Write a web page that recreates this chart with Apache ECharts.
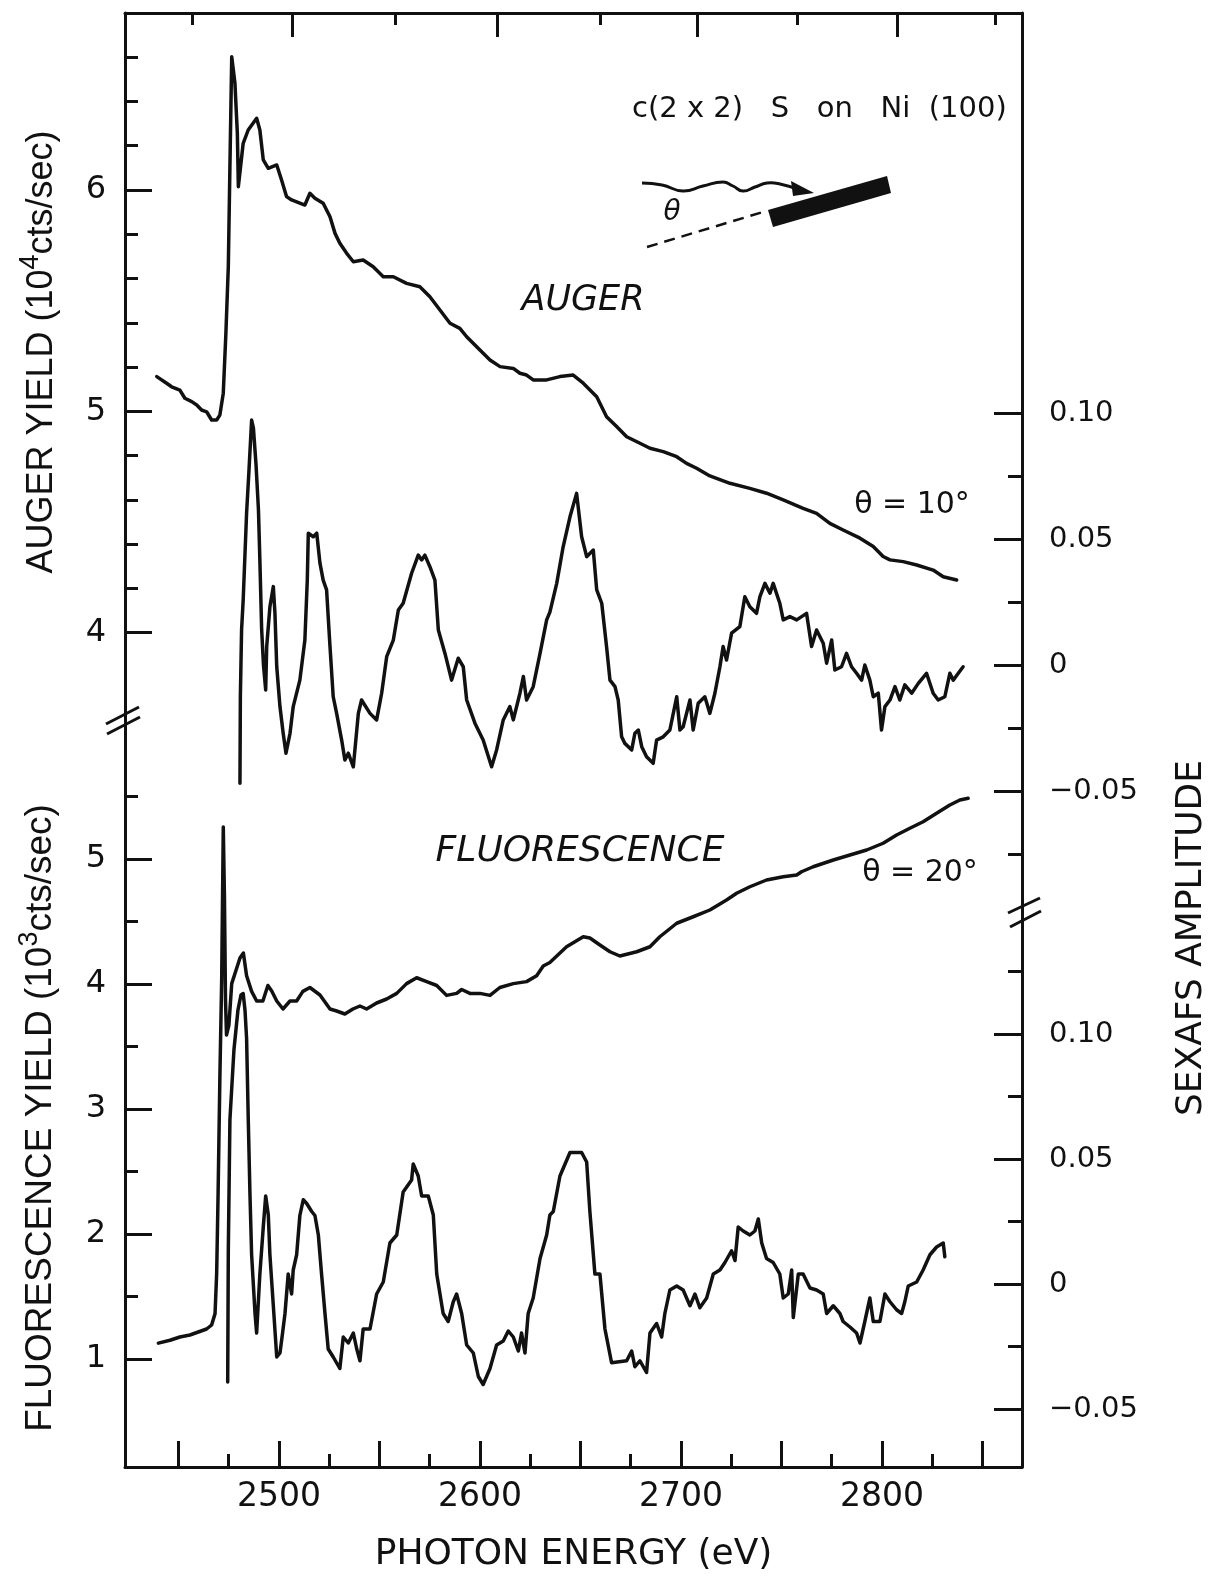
<!DOCTYPE html>
<html><head><meta charset="utf-8">
<script src="https://cdn.jsdelivr.net/npm/echarts@6/dist/echarts.min.js"></script>
<style>html,body{margin:0;padding:0;background:#fff}#c{width:1214px;height:1576px}</style>
</head><body><div id="c"></div>
<script>
// ---- data: [photon energy (eV), value] ----
const augerYield = [[2439.2,5.157],[2444.1,5.127],[2446.6,5.111],[2450.7,5.096],[2453.2,5.059],[2456.6,5.044],[2459.1,5.029],[2461.5,5.006],[2464.0,4.998],[2466.5,4.961],
[2469.0,4.961],[2470.6,4.983],[2472.3,5.082],[2473.6,5.353],[2474.8,5.653],[2475.6,6.105],[2476.5,6.602],[2478.1,6.482],[2479.3,6.256],[2479.8,6.015],
[2480.9,6.105],[2482.2,6.211],[2484.7,6.271],[2488.9,6.324],[2490.5,6.271],[2492.2,6.136],[2494.7,6.098],[2498.9,6.113],[2501.3,6.045],[2503.8,5.970],
[2506.3,5.955],[2512.9,5.932],[2515.4,5.985],[2517.9,5.963],[2522.0,5.940],[2525.4,5.879],[2527.9,5.804],[2530.3,5.759],[2533.7,5.714],[2537.0,5.676],
[2541.9,5.684],[2546.9,5.653],[2551.9,5.608],[2556.9,5.608],[2563.5,5.578],[2570.1,5.563],[2575.1,5.518],[2580.1,5.458],[2585.1,5.398],[2590.0,5.375],
[2593.4,5.337],[2600.0,5.277],[2605.0,5.232],[2610.0,5.202],[2616.6,5.194],[2619.9,5.172],[2623.2,5.164],[2626.5,5.142],[2633.2,5.142],[2639.8,5.157],
[2646.4,5.164],[2651.4,5.127],[2658.1,5.066],[2663.0,4.976],[2668.0,4.931],[2673.0,4.885],[2679.6,4.856],[2684.6,4.833],[2691.2,4.818],[2697.9,4.795],
[2702.8,4.765],[2707.8,4.743],[2714.4,4.708],[2724.4,4.675],[2734.3,4.652],[2742.6,4.630],[2750.9,4.600],[2760.8,4.562],[2767.5,4.539],[2774.1,4.494],
[2780.7,4.464],[2789.1,4.427],[2795.7,4.389],[2800.6,4.344],[2804.0,4.329],[2810.6,4.321],[2817.3,4.306],[2825.5,4.283],[2830.5,4.253],[2837.2,4.238]];

const augerSexafs = [[2480.6,-0.0467],[2480.8,-0.0124],[2481.4,0.0141],[2482.2,0.0260],[2483.9,0.0605],[2485.1,0.0776],[2486.4,0.0974],[2487.3,0.0942],[2488.6,0.0796],[2489.8,0.0617],
[2490.5,0.0419],[2491.4,0.0141],[2492.3,0.0002],[2493.4,-0.0097],[2493.9,0.0075],[2495.5,0.0233],[2497.2,0.0313],[2498.0,0.0208],[2498.9,-0.0005],[2500.5,-0.0163],
[2502.1,-0.0269],[2503.5,-0.0348],[2505.5,-0.0269],[2507.1,-0.0163],[2510.4,-0.0058],[2512.9,0.0101],[2514.1,0.0339],[2514.6,0.0525],[2517.1,0.0511],[2518.8,0.0525],
[2520.4,0.0406],[2522.0,0.0339],[2523.7,0.0300],[2525.4,0.0075],[2527.0,-0.0124],[2528.7,-0.0190],[2531.2,-0.0296],[2532.8,-0.0375],[2534.5,-0.0348],[2537.0,-0.0402],
[2539.5,-0.0190],[2541.1,-0.0137],[2545.3,-0.0190],[2548.6,-0.0216],[2551.1,-0.0110],[2553.6,0.0035],[2556.9,0.0101],[2559.4,0.0220],[2561.8,0.0247],[2566.0,0.0366],
[2569.3,0.0438],[2571.0,0.0419],[2572.6,0.0438],[2575.1,0.0392],[2577.6,0.0339],[2579.3,0.0141],[2582.6,0.0048],[2585.9,-0.0058],[2589.2,0.0029],[2591.7,-0.0005],
[2593.4,-0.0137],[2597.5,-0.0229],[2601.6,-0.0296],[2605.8,-0.0402],[2608.3,-0.0335],[2611.6,-0.0216],[2614.9,-0.0163],[2616.6,-0.0216],[2619.9,-0.0110],[2621.6,-0.0044],
[2623.2,-0.0137],[2626.5,-0.0084],[2629.9,0.0048],[2633.2,0.0181],[2634.8,0.0212],[2638.2,0.0326],[2641.4,0.0471],[2644.8,0.0590],[2648.1,0.0683],[2650.6,0.0511],
[2653.1,0.0432],[2656.4,0.0458],[2658.1,0.0300],[2660.6,0.0247],[2663.0,0.0075],[2664.7,-0.0058],[2667.2,-0.0084],[2668.8,-0.0137],[2670.5,-0.0283],[2672.1,-0.0309],
[2675.5,-0.0335],[2677.1,-0.0269],[2678.8,-0.0256],[2680.5,-0.0322],[2682.9,-0.0362],[2686.2,-0.0388],[2687.9,-0.0296],[2691.2,-0.0283],[2694.5,-0.0256],[2697.9,-0.0124],
[2699.5,-0.0256],[2701.1,-0.0243],[2702.8,-0.0190],[2704.5,-0.0137],[2706.1,-0.0256],[2708.6,-0.0150],[2711.9,-0.0124],[2714.4,-0.0190],[2716.9,-0.0110],[2719.4,-0.0005],
[2721.0,0.0075],[2722.7,0.0022],[2725.2,0.0128],[2729.3,0.0154],[2731.8,0.0273],[2734.3,0.0233],[2737.6,0.0207],[2739.3,0.0273],[2741.8,0.0326],[2744.3,0.0287],
[2745.9,0.0326],[2749.2,0.0247],[2750.9,0.0181],[2754.2,0.0194],[2757.6,0.0181],[2762.5,0.0207],[2765.0,0.0075],[2767.5,0.0141],[2770.8,0.0088],[2772.5,0.0009],
[2775.0,0.0101],[2776.6,-0.0018],[2779.9,-0.0005],[2782.4,0.0048],[2784.9,-0.0005],[2787.4,-0.0031],[2789.9,-0.0058],[2791.5,0.0002],[2794.0,-0.0058],[2795.7,-0.0124],
[2798.2,-0.0110],[2799.8,-0.0256],[2801.5,-0.0163],[2804.0,-0.0137],[2806.5,-0.0084],[2808.9,-0.0137],[2811.4,-0.0077],[2814.8,-0.0110],[2818.1,-0.0071],[2822.2,-0.0031],
[2825.5,-0.0110],[2828.0,-0.0137],[2831.3,-0.0124],[2833.8,-0.0031],[2835.5,-0.0058],[2838.0,-0.0031],[2840.4,-0.0005]];

const fluorYield = [[2440.0,1.127],[2445.8,1.150],[2450.7,1.176],[2455.7,1.192],[2464.0,1.240],[2466.5,1.272],[2468.2,1.363],[2469.0,1.680],[2469.7,2.304],[2470.6,3.248],
[2471.5,4.032],[2472.3,5.256],[2472.9,4.672],[2473.4,3.872],[2473.9,3.592],[2475.1,3.672],[2476.5,4.003],[2479.0,4.128],[2480.6,4.208],[2482.3,4.248],
[2483.9,4.066],[2486.4,3.941],[2488.9,3.864],[2492.0,3.864],[2494.5,3.988],[2496.4,3.944],[2498.9,3.864],[2502.0,3.800],[2505.5,3.864],[2508.8,3.864],
[2511.9,3.941],[2515.4,3.972],[2520.4,3.912],[2525.4,3.800],[2528.7,3.784],[2532.8,3.760],[2536.8,3.800],[2540.3,3.824],[2543.6,3.800],[2548.6,3.848],
[2553.6,3.880],[2558.6,3.925],[2563.5,4.003],[2568.5,4.050],[2573.5,4.019],[2578.5,3.988],[2583.4,3.909],[2588.4,3.925],[2590.9,3.956],[2595.0,3.925],
[2600.0,3.925],[2605.0,3.909],[2609.9,3.972],[2616.6,4.003],[2623.2,4.019],[2628.2,4.066],[2631.5,4.144],[2634.8,4.172],[2643.1,4.298],[2651.4,4.378],
[2654.7,4.368],[2659.7,4.312],[2664.7,4.258],[2669.6,4.224],[2678.0,4.258],[2684.6,4.298],[2689.5,4.378],[2697.9,4.486],[2706.1,4.538],[2714.4,4.592],
[2722.7,4.672],[2727.7,4.726],[2734.3,4.778],[2742.6,4.832],[2750.9,4.858],[2757.6,4.872],[2760.0,4.898],[2765.8,4.938],[2775.8,4.992],[2784.1,5.032],
[2792.4,5.072],[2800.6,5.126],[2807.3,5.192],[2813.9,5.246],[2820.5,5.298],[2827.2,5.366],[2833.8,5.432],[2838.8,5.472],[2842.9,5.486]];

const fluorSexafs = [[2474.5,-0.0392],[2474.8,0.0136],[2475.6,0.0656],[2477.6,0.0936],[2479.6,0.1096],[2481.1,0.1156],[2482.2,0.1162],[2483.1,0.1096],[2483.9,0.0982],[2484.7,0.0668],
[2485.6,0.0352],[2486.4,0.0117],[2488.1,-0.0118],[2488.9,-0.0196],[2490.5,0.0040],[2492.2,0.0228],[2493.4,0.0352],[2494.7,0.0276],[2495.5,0.0117],[2497.2,-0.0087],
[2498.9,-0.0292],[2500.5,-0.0276],[2501.8,-0.0196],[2503.0,-0.0118],[2504.6,0.0040],[2506.3,-0.0040],[2507.1,0.0056],[2508.8,0.0117],[2510.4,0.0274],[2512.1,0.0337],
[2513.8,0.0322],[2516.3,0.0290],[2517.9,0.0274],[2519.6,0.0196],[2521.2,0.0040],[2522.9,-0.0118],[2524.5,-0.0260],[2527.0,-0.0292],[2530.3,-0.0338],[2532.0,-0.0212],
[2534.5,-0.0236],[2537.0,-0.0196],[2538.7,-0.0260],[2540.3,-0.0307],[2541.9,-0.0180],[2545.3,-0.0180],[2548.6,-0.0040],[2551.9,0.0008],[2555.2,0.0164],[2558.6,0.0196],
[2561.8,0.0368],[2566.0,0.0416],[2566.8,0.0480],[2569.3,0.0432],[2571.0,0.0352],[2574.3,0.0352],[2576.8,0.0276],[2578.5,0.0040],[2581.7,-0.0118],[2584.2,-0.0150],
[2586.7,-0.0072],[2588.4,-0.0040],[2590.9,-0.0118],[2593.4,-0.0244],[2596.7,-0.0276],[2599.2,-0.0370],[2601.6,-0.0402],[2605.0,-0.0338],[2608.3,-0.0244],[2611.6,-0.0228],
[2614.1,-0.0188],[2616.6,-0.0212],[2619.1,-0.0268],[2620.7,-0.0196],[2622.4,-0.0276],[2624.0,-0.0118],[2626.5,-0.0056],[2629.9,0.0102],[2633.2,0.0196],[2634.8,0.0276],
[2636.5,0.0290],[2639.8,0.0432],[2644.8,0.0526],[2650.6,0.0526],[2653.1,0.0488],[2654.7,0.0290],[2657.2,0.0040],[2659.7,0.0040],[2662.2,-0.0180],[2665.5,-0.0315],
[2673.0,-0.0307],[2675.5,-0.0268],[2677.1,-0.0331],[2679.6,-0.0307],[2682.9,-0.0354],[2684.6,-0.0196],[2687.9,-0.0158],[2690.4,-0.0212],[2692.0,-0.0118],[2694.5,-0.0024],
[2697.9,-0.0008],[2701.1,-0.0024],[2704.5,-0.0087],[2707.0,-0.0040],[2709.4,-0.0095],[2712.8,-0.0056],[2716.1,0.0040],[2719.4,0.0056],[2721.9,0.0086],[2725.2,0.0133],
[2726.9,0.0094],[2728.5,0.0228],[2731.0,0.0212],[2734.3,0.0196],[2736.8,0.0212],[2738.5,0.0260],[2740.2,0.0164],[2742.6,0.0102],[2745.9,0.0086],[2749.2,0.0040],
[2750.9,-0.0056],[2753.4,-0.0040],[2755.1,0.0056],[2755.9,-0.0134],[2758.4,0.0040],[2760.8,0.0040],[2764.2,-0.0016],[2767.5,-0.0024],[2770.8,-0.0040],[2772.5,-0.0118],
[2775.8,-0.0087],[2779.1,-0.0118],[2780.7,-0.0150],[2784.1,-0.0172],[2787.4,-0.0196],[2789.1,-0.0236],[2791.5,-0.0150],[2794.0,-0.0056],[2795.7,-0.0150],[2799.0,-0.0150],
[2801.5,-0.0040],[2804.0,-0.0071],[2807.3,-0.0103],[2809.8,-0.0118],[2811.4,-0.0071],[2813.1,-0.0008],[2817.3,0.0008],[2820.5,0.0056],[2823.9,0.0117],[2827.2,0.0148],
[2830.5,0.0164],[2831.3,0.0109]];

// ---- ticks ----
const bottomMajorTicks = [2450,2500,2550,2600,2650,2700,2750,2800,2850];
const bottomMinorTicks = [2475,2525,2575,2625,2675,2725,2775,2825];
const bottomLabels = [2500,2600,2700,2800];
const topMajorTicks = [2506.5,2608.5,2708,2807.5];
const topMinorTicks = [2456.7,2557.7,2659.7,2757.7,2856.2];
const augerMajorTicks = [4,5,6];
const augerMinorTicks = [4.2,4.4,4.6,4.8,5.2,5.4,5.6,5.8,6.2,6.4,6.6];
const fluorMajorTicks = [1,2,3,4,5];
const fluorMinorTicks = [1.5,2.5,3.5,4.5,5.5];
const sexafsMajorTicks = [-0.05,0,0.05,0.10];
const sexafsUpperMinor = [-0.075,-0.025,0.025,0.075];
const sexafsLowerMinor = [-0.025,0.025,0.075,0.125];

const X_MIN = 2423.4, X_MAX = 2869.7;
const INK = '#111';
const FONT = 'DejaVu Sans';

function grid(top, height) {
  return {left:125, width:897, top:top, height:height, containLabel:false, outerBoundsMode:'none'};
}
function xAx(g, pos, ticks, len, showLine, labels, extra) {
  return Object.assign({
    type:'value', gridIndex:g, position:pos, min:X_MIN, max:X_MAX,
    axisLine:{show:showLine, onZero:false, lineStyle:{color:INK, width:3}},
    axisTick:{show:true, inside:true, length:len, customValues:ticks, lineStyle:{color:INK, width:3}},
    axisLabel:labels ? {show:true, customValues:labels, margin:14, fontSize:33, fontFamily:FONT, color:INK,
      formatter:function(v){ return String(Math.round(v)); }} : {show:false},
    splitLine:{show:false}
  }, extra || {});
}
function yAx(g, pos, min, max, ticks, len, showLine, labels, labelOpt) {
  return {
    type:'value', gridIndex:g, position:pos, min:min, max:max,
    axisLine:{show:showLine, onZero:false, lineStyle:{color:INK, width:3}},
    axisTick:{show:true, inside:true, length:len, customValues:ticks, lineStyle:{color:INK, width:3}},
    axisLabel:labels ? Object.assign({show:true, customValues:labels, color:INK, fontFamily:FONT}, labelOpt) : {show:false},
    splitLine:{show:false}
  };
}
function sexLabel(v){ if (Math.abs(v) < 1e-9) return '0'; return (v < 0 ? '\u2212' : '') + Math.abs(v).toFixed(2); }

function line(data, xi, yi) {
  return {type:'line', data:data, xAxisIndex:xi, yAxisIndex:yi, showSymbol:false, symbol:'none',
    lineStyle:{color:INK, width:3.5, join:'round', cap:'round'}, silent:true, animation:false};
}

const chart = echarts.init(document.getElementById('c'), null, {renderer:'canvas'});
chart.setOption({
  backgroundColor:'#fff',
  animation:false,
  grid:[grid(13,705), grid(718,749), grid(13,896), grid(909,558)],
  xAxis:[
    xAx(0,'top',topMajorTicks,24,true,null),
    xAx(1,'bottom',bottomMajorTicks,26,true,bottomLabels,{
      name:'PHOTON ENERGY (eV)', nameLocation:'middle', nameGap:70,
      nameTextStyle:{fontSize:36, fontFamily:FONT, color:INK}}),
    xAx(2,'top',topMinorTicks,12,false,null),
    xAx(3,'bottom',bottomMinorTicks,13,false,null)
  ],
  yAxis:[
    yAx(0,'left',3.6146,6.7996,augerMajorTicks,27,true,augerMajorTicks,{margin:19,fontSize:32}),
    yAx(0,'left',3.6146,6.7996,augerMinorTicks,13,false,null),
    yAx(1,'left',0.136,6.128,fluorMajorTicks,27,true,fluorMajorTicks,{margin:19,fontSize:32}),
    yAx(1,'left',0.136,6.128,fluorMinorTicks,13,false,null),
    yAx(2,'right',-0.09663,0.25893,sexafsMajorTicks,28,true,sexafsMajorTicks,{margin:27,fontSize:29,formatter:sexLabel}),
    yAx(2,'right',-0.09663,0.25893,sexafsUpperMinor,14,false,null),
    yAx(3,'right',-0.0732,0.15,sexafsMajorTicks,28,true,sexafsMajorTicks,{margin:27,fontSize:29,formatter:sexLabel}),
    yAx(3,'right',-0.0732,0.15,sexafsLowerMinor,14,false,null)
  ],
  series:[
    line(augerYield,0,0),
    line(fluorYield,1,2),
    line(augerSexafs,2,4),
    line(fluorSexafs,3,6)
  ],
  graphic:{elements:[
    {type:'text', x:42, y:352, rotation:Math.PI/2, silent:true,
      style:{text:'AUGER YIELD (10{sup|4}cts/sec)', fontSize:36, fontFamily:'Liberation Sans', fill:INK,
        align:'center', verticalAlign:'middle', lineHeight:50,
        rich:{sup:{fontSize:27, fontFamily:'Liberation Sans', fill:INK, verticalAlign:'top', lineHeight:26}}}},
    {type:'text', x:41, y:1118, rotation:Math.PI/2, silent:true,
      style:{text:'FLUORESCENCE YIELD (10{sup|3}cts/sec)', fontSize:37, fontFamily:'Liberation Sans', fill:INK,
        align:'center', verticalAlign:'middle', lineHeight:50,
        rich:{sup:{fontSize:27, fontFamily:'Liberation Sans', fill:INK, verticalAlign:'top', lineHeight:26}}}},
    {type:'text', x:1192, y:938, rotation:Math.PI/2, silent:true,
      style:{text:'SEXAFS AMPLITUDE', fontSize:36, fontFamily:FONT, fill:INK, align:'center', verticalAlign:'middle'}},
    {type:'text', x:632, y:109, silent:true,
      style:{text:'c(2 x 2)   S   on   Ni  (100)', fontSize:29, fontFamily:FONT, fill:INK, align:'left', verticalAlign:'middle'}},
    {type:'text', x:583, y:301, silent:true,
      style:{text:'AUGER', fontSize:35, fontStyle:'italic', fontFamily:FONT, fill:INK, align:'center', verticalAlign:'middle'}},
    {type:'text', x:580, y:852, silent:true,
      style:{text:'FLUORESCENCE', fontSize:36, fontStyle:'italic', fontFamily:FONT, fill:INK, align:'center', verticalAlign:'middle'}},
    {type:'text', x:912, y:505, silent:true,
      style:{text:'\u03b8 = 10\u00b0', fontSize:30, fontFamily:FONT, fill:INK, align:'center', verticalAlign:'middle'}},
    {type:'text', x:920, y:873, silent:true,
      style:{text:'\u03b8 = 20\u00b0', fontSize:30, fontFamily:FONT, fill:INK, align:'center', verticalAlign:'middle'}},
    {type:'text', x:672, y:213, silent:true,
      style:{text:'\u03b8', fontSize:28, fontStyle:'italic', fontFamily:FONT, fill:INK, align:'center', verticalAlign:'middle'}},
    {type:'polyline', silent:true,
      shape:{points:[[642,183],[662,185],[683,191],[703,186],[723,182],[733,186],[743,191],[755,187],[767,183],[780,184],[800,190]], smooth:0.5},
      style:{stroke:INK, lineWidth:3, fill:null}},
    {type:'polygon', silent:true, shape:{points:[[791,181],[814,193],[793,196]]}, style:{fill:INK}},
    {type:'line', silent:true, shape:{x1:647,y1:247,x2:763,y2:212}, style:{stroke:INK, lineWidth:2.5, lineDash:[11,7]}},
    {type:'polygon', silent:true, shape:{points:[[768,210],[887,176],[891,193],[773,227]]}, style:{fill:INK}},
    {type:'line', silent:true, shape:{x1:106,y1:724,x2:139,y2:707}, style:{stroke:INK, lineWidth:3}},
    {type:'line', silent:true, shape:{x1:107,y1:734,x2:140,y2:717}, style:{stroke:INK, lineWidth:3}},
    {type:'line', silent:true, shape:{x1:1008,y1:913,x2:1040,y2:898}, style:{stroke:INK, lineWidth:3}},
    {type:'line', silent:true, shape:{x1:1010,y1:927,x2:1041,y2:911}, style:{stroke:INK, lineWidth:3}}
  ]}
});
</script>
</body></html>
